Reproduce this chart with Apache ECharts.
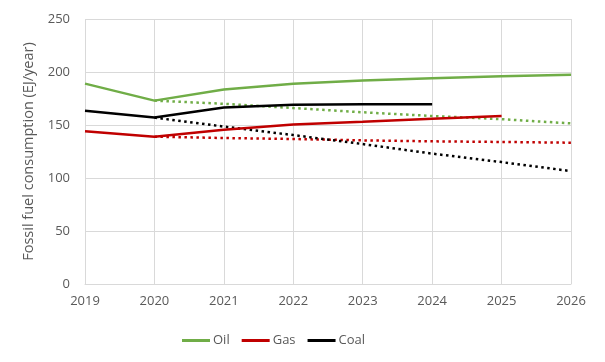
<!DOCTYPE html>
<html>
<head>
<meta charset="utf-8">
<script src="https://cdn.jsdelivr.net/npm/echarts@6/dist/echarts.min.js"></script>
<style>html,body{margin:0;padding:0;background:#fff}#c{width:605px;height:362px}</style>
</head>
<body>
<div id="c"></div>
<script>
const years = ['2019','2020','2021','2022','2023','2024','2025','2026'];
const oil = [189, 173, 183.5, 189, 192, 194, 196, 197.5];
const gas = [144, 139, 145.5, 150.5, 153, 156, 158.5];
const coal = [163.5, 157, 166.5, 169, 169.5, 169.5];
const oilProj = [null, 173, 170, 166, 162, 158.5, 155.5, 151.5];
const gasProj = [null, 139, 137.7, 136.8, 135.5, 134.6, 134, 133.3];
const coalProj = [null, 157, 148.5, 140.5, 132, 123, 115, 106.5];
const yTicks = {min: 0, max: 250, interval: 50};

const GREEN = '#70AD47', RED = '#C00000', BLACK = '#000000';
const font = 'Open Sans';
function solid(name, data, color) {
  return {name, type: 'line', data, symbol: 'none', showSymbol: false, z: 3,
    lineStyle: {color, width: 2.5}, itemStyle: {color}};
}
function dotted(name, data, color) {
  return {name, type: 'line', data, symbol: 'none', showSymbol: false, z: 2,
    lineStyle: {color, width: 2.5, type: [2.5, 3.5]}, itemStyle: {color}};
}
const chart = echarts.init(document.getElementById('c'), null, {renderer: 'canvas'});
chart.setOption({
  animation: false,
  textStyle: {fontFamily: font},
  grid: {left: 85, right: 34, top: 19, bottom: 78},
  xAxis: {
    type: 'category', data: years, boundaryGap: false,
    axisLine: {lineStyle: {color: '#d9d9d9', width: 1}},
    axisTick: {show: false},
    axisLabel: {color: '#595959', fontSize: 13, margin: 11, fontFamily: font},
    splitLine: {show: true, lineStyle: {color: '#d9d9d9', width: 1}}
  },
  yAxis: {
    type: 'value', min: yTicks.min, max: yTicks.max, interval: yTicks.interval,
    name: 'Fossil fuel consumption (EJ/year)', nameLocation: 'middle', nameGap: 40,
    nameTextStyle: {color: '#595959', fontSize: 14.5, fontFamily: font},
    axisLine: {show: false}, axisTick: {show: false},
    axisLabel: {color: '#595959', fontSize: 13, margin: 15, fontFamily: font},
    splitLine: {lineStyle: {color: '#d9d9d9', width: 1}}
  },
  legend: {
    data: ['Oil', 'Gas', 'Coal'], left: 177, top: 329,
    icon: 'rect', itemWidth: 28, itemHeight: 3, itemGap: 12,
    textStyle: {color: '#595959', fontSize: 13, padding: [0, 0, 0, -2], fontFamily: font}
  },
  series: [
    dotted('Oil proj', oilProj, GREEN),
    dotted('Gas proj', gasProj, RED),
    dotted('Coal proj', coalProj, BLACK),
    solid('Oil', oil, GREEN),
    solid('Gas', gas, RED),
    solid('Coal', coal, BLACK)
  ]
});
</script>
</body>
</html>
